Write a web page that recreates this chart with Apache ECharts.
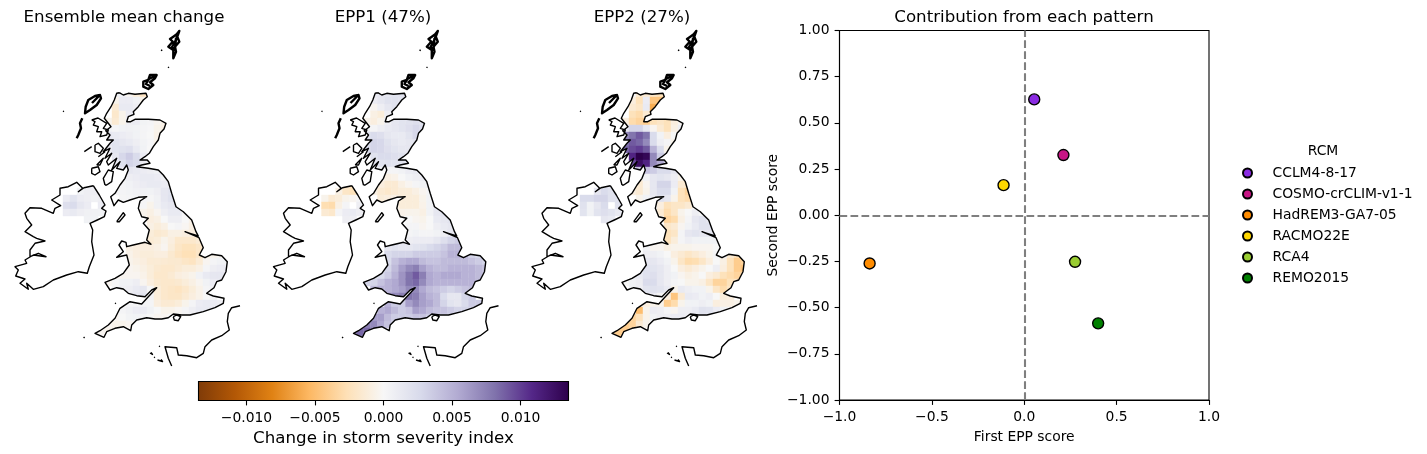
<!DOCTYPE html>
<html><head><meta charset="utf-8">
<style>html,body{margin:0;padding:0;background:#fff}#c{width:1427px;height:454px}</style>
<script src="https://cdn.jsdelivr.net/npm/echarts@6/dist/echarts.min.js"></script>
</head><body><div id="c"></div>
<script>
const _ = null;
// ---------- scatter data ----------
const rcmNames = ['CCLM4-8-17','COSMO-crCLIM-v1-1','HadREM3-GA7-05','RACMO22E','RCA4','REMO2015'];
const rcmColors = ['#8a2be2','#c71585','#ff8c00','#ffd700','#9acd32','#008000'];
const firstEpp = [0.054,0.212,-0.837,-0.112,0.275,0.40];
const secondEpp = [0.627,0.326,-0.261,0.163,-0.252,-0.585];
const panelTitles = ['Ensemble mean change','EPP1 (47%)','EPP2 (27%)'];
// ---------- map fields, units of 1e-4, one row per latitude band, one column per longitude band ----------
const meanGB = [
[_,_,_,8,5,-3,-12,-22,-22],
[_,_,_,-5,10,10,5,-5,-15],
[_,_,_,-15,12,12,8,6],
[_,_,_,-18,-5,10,10,5,3,3,2],
[_,_,-5,-15,-5,8,10,4,3,-3,-6],
[_,_,5,3,5,6,5,3,1,-5,-8],
[_,_,15,12,10,8,5,3,0,-6,-8],
[_,_,15,18,15,12,8,4,1,-5,-6],
[_,_,10,18,20,22,12,5,0,-4,-3],
[_,_,_,15,28,35,25,10,3,0],
[_,_,_,10,20,30,25,10,5,3],
[_,_,_,_,10,15,12,10,8,5,3],
[_,_,_,_,6,8,10,12,12,10,6,3],
[_,_,_,5,3,5,8,10,12,12,10,8,5],
[_,_,_,3,3,4,6,6,5,8,15,18,12],
[_,_,_,_,2,3,4,3,2,6,15,20,18],
[_,_,_,_,_,_,_,2,-5,6,12,15,12,5],
[_,_,_,_,_,_,_,-5,-8,-3,8,12,12,3,-3,-5],
[_,_,_,_,_,_,_,_,-10,-8,0,8,8,0,-6,-8],
[_,_,_,_,_,_,_,_,-8,-12,-8,0,3,-2,-8,-10,-8],
[_,_,_,_,_,_,_,_,-12,-16,-14,-8,-8,-10,-10,-10,-8],
[_,_,_,_,_,-8,-10,-10,-14,-12,-5,-10,-18,-18,-18,-14,-10],
[_,_,_,_,_,-8,-10,-10,-10,-8,-3,-12,-20,-24,-24,-20,-10],
[_,_,_,_,_,-6,-10,-12,-12,-10,-10,-16,-22,-26,-26,-20,-8,-5,-3],
[_,_,_,_,_,-5,-8,-10,-14,-14,-15,-16,-16,-20,-22,-14,-3,3,5,5,3],
[_,_,_,_,_,-3,-5,-8,-12,-16,-18,-18,-15,-12,-12,-8,3,8,10,10,8],
[_,_,_,-3,-3,-3,-3,-6,-12,-18,-18,-15,-10,-8,-5,5,12,15,15,10],
[_,_,-3,2,5,5,8,-3,-10,-16,-18,-18,-16,-12,-8,-3,5,10,12,10],
[_,_,_,3,6,8,12,15,2,-12,-18,-20,-22,-18,-12,-6,3,6,6],
[_,_,_,_,_,10,15,18,5,-12,-18,-20,-20,-15,-10,-6,0,3],
[_,_,_,_,_,3,3,3,3,-10,-15,-15,-12,-5,3,10,12,10,8,5],
[_,_,_,_,3,6,10,10,5,0,-5,-5,-2,3,8,12,12,10,6],
[_,_,_,-3,0,4,5,3,0,-3,-3,0,3,4,4,3],
[_,_,-3,-5,-5,-3,-1],
[-3,-3,-5,-5,-2],
[-2,-2,-3]];
const epp1GB = [
[_,_,_,12,15,15,18,20,15],
[_,_,_,10,15,20,20,18,12],
[_,_,_,-3,8,15,20,18],
[_,_,_,-8,-12,8,18,18,18,15,15],
[_,_,-5,-10,-5,8,15,18,20,22,20],
[_,_,5,3,8,12,15,18,22,28,25],
[_,_,20,25,22,15,12,12,18,28,22],
[_,_,25,30,28,20,15,12,15,18,12],
[_,_,25,30,28,22,18,15,15,15],
[_,_,_,20,25,25,22,20,18,18],
[_,_,_,15,18,20,18,18,18,15],
[_,_,_,_,5,3,3,5,10,12,10],
[_,_,_,_,-3,-8,-6,0,5,8,10,8],
[_,_,_,-3,-10,-15,-15,-8,-3,3,5,8,6],
[_,_,_,-8,-15,-18,-15,-12,-12,-8,-3,3,8],
[_,_,_,_,-12,-10,-8,-12,-12,-12,-5,5,10],
[_,_,_,_,_,_,_,-12,-12,-12,-6,5,12,12],
[_,_,_,_,_,_,_,-6,-5,-5,-8,5,15,18,15,10],
[_,_,_,_,_,_,_,_,0,-3,-5,0,12,15,18,15],
[_,_,_,_,_,_,_,_,3,3,-3,0,8,12,15,18,15],
[_,_,_,_,_,_,_,_,3,5,3,3,5,8,15,22,20],
[_,_,_,_,_,8,5,5,8,10,10,10,15,22,30,35,30],
[_,_,_,_,_,15,18,15,15,18,20,25,30,35,45,45,35],
[_,_,_,_,_,25,30,30,30,35,35,35,35,40,50,50,45,30,25],
[_,_,_,_,_,25,40,50,55,55,45,40,40,45,45,45,45,40,35,30,25],
[_,_,_,_,_,30,45,60,70,75,60,50,45,45,50,50,50,50,45,40],
[_,_,_,20,25,35,50,65,80,90,75,55,50,55,55,55,50,50,45,40],
[_,_,30,30,40,50,55,65,80,85,70,55,50,50,50,50,50,50,45,40],
[_,_,_,45,50,50,55,60,70,70,55,45,40,35,30,35,40,45,40],
[_,_,_,_,_,65,70,75,80,75,60,50,45,25,15,15,30,35],
[_,_,_,_,_,50,35,35,60,70,60,55,45,30,18,15,25,35,35],
[_,_,_,_,50,55,45,35,40,60,55,45,40,40,35,30,30,30,30],
[_,_,_,60,60,45,35,35,35,40,40,35,30,25,20,20],
[_,_,75,70,55,40,30],
[70,85,85,70,50],
[70,80,70]];
const epp2GB = [
[_,_,_,0,-15,-15,-20,-25,-30],
[_,_,_,-10,-25,10,-45,-45,-25],
[_,_,_,-15,-20,12,-60,-50],
[_,_,_,-25,-30,-15,-50,-35,-10,-12,-10],
[_,_,-10,-30,-35,-40,-25,-20,-25,-10,-3],
[_,_,15,30,30,15,-3,-15,-25,-8,8],
[_,_,70,80,90,80,25,5,-10,0,8],
[_,_,80,90,85,70,25,8,3,-5,5],
[_,_,85,95,100,90,50,25,-5,-15],
[_,_,_,110,135,130,70,35,15,3],
[_,_,_,95,125,110,70,55,30,15],
[_,_,_,_,40,40,35,25,25,15,3],
[_,_,_,_,-5,5,15,18,15,8,-5,-5],
[_,_,_,-8,-15,-3,15,30,30,10,-15,-20,-10],
[_,_,_,-10,-15,-5,15,25,25,5,-25,-35,-40],
[_,_,_,_,-5,5,12,20,15,-5,-25,-30,-30],
[_,_,_,_,_,_,_,-10,-25,-20,-20,-15,-3],
[_,_,_,_,_,_,_,-15,-30,-20,-5,0,8,3,5],
[_,_,_,_,_,_,_,_,-35,-30,-8,3,15,20,15,10],
[_,_,_,_,_,_,_,_,-20,-15,-3,5,12,20,20,15,10],
[_,_,_,_,_,_,_,_,-25,-20,3,15,18,15,15,12,8],
[_,_,_,_,_,-5,-3,-8,-25,-12,3,8,5,5,5,5,8],
[_,_,_,_,_,5,-3,-3,-8,-5,-5,-5,-3,-3,-3,0,5],
[_,_,_,_,_,8,8,5,0,-10,-15,-20,-15,-10,-5,3,5,-15,-25],
[_,_,_,_,_,15,15,10,5,-5,-20,-30,-28,-20,-10,0,-8,-25,-40,-35],
[_,_,_,_,_,20,18,15,8,0,-10,-15,-10,-5,0,8,-10,-25,-40,-45],
[_,_,_,8,12,20,22,15,8,5,-3,-8,-5,0,-10,-15,-25,-30,-35,-30],
[_,_,0,5,8,25,25,15,8,3,0,-5,-5,-8,-20,-35,-35,-25,-20,-15],
[_,_,_,5,8,18,20,18,12,-5,12,8,5,5,-5,-20,-30,-20,-10],
[_,_,_,_,_,15,10,3,-10,-45,-15,12,10,5,8,0,-12,-10],
[_,_,_,_,_,-10,-5,-5,-40,-30,-5,5,5,8,5,-10,-8,-8,-5],
[_,_,_,_,-50,-5,10,8,3,-3,8,8,12,20,18,10,5,3,0,0],
[_,_,_,-35,-25,-5,5,8,8,10,10,8,10,12,10,8],
[_,_,-40,-35,-15,-5,0],
[-30,-40,-40,-25,-10],
[-30,-40,-30]];
const meanNI = [
[_,_,_,6,8,8],
[_,_,5,8,8,8],
[10,18,10,8,6,8],
[22,25,15,10,_,10],
[10,12,8,6,6,5],
[_,_,_,5,5,_]];
const epp1NI = [
[_,_,_,-15,-25,-20],
[_,_,-8,-20,-25,-10],
[-5,-15,-12,-5,-3,3],
[-28,-30,-8,3,_,8],
[-15,-18,3,10,12,8],
[_,_,_,8,8,_]];
const epp2NI = [
[_,_,_,12,15,15],
[_,_,15,25,20,18],
[25,25,30,30,20,20],
[20,5,15,25,_,20],
[18,5,18,22,18,12],
[_,_,_,15,12,_]];
// ---------- coastlines, map units ----------
const gbCoast = [[119.3,92.7],[123.3,95],[128.3,93.3],[135,94.3],[146,93.3],[147.3,96.7],[143.3,100],[138.3,106.7],[133.3,111.7],[134,114.3],[128.3,116.7],[126.7,121.7],[130.7,121.7],[135,119.3],[141.7,119.3],[148.3,119.3],[160,120],[166,123.3],[164,129],[160,133.3],[158.3,140],[153.3,146.7],[149.3,153.3],[145,156.7],[140,160],[147.3,160],[150,163.3],[141.7,165],[136.7,166.7],[148.3,168.3],[158.3,170],[163.3,175],[168.3,181.7],[171.7,193.3],[176,206.7],[183.3,211.7],[191.7,220],[196,231.7],[198.3,236],[190,233.3],[185,231.7],[199,237.7],[203.3,247.7],[199.3,255],[205,257.7],[211.7,254.3],[221.7,255.7],[227.3,261.7],[226,271.7],[221.7,280],[216.7,281.7],[214,287.7],[206.7,293.3],[213.3,296],[224,298.3],[223.3,303.3],[215,307.7],[203.3,311.7],[190,315],[181.7,315],[173.3,314],[168.3,317.7],[161.7,319],[155,319],[146.7,317.7],[136.7,320],[131.7,325],[130.7,330.7],[123.3,326.7],[115,328.3],[106.7,331.7],[104,337.3],[95,333.3],[100,330.7],[108.3,325],[115,318.3],[120,308.3],[130,301.7],[141.7,304],[148.3,296.7],[156.7,287.7],[151.7,290],[145,296.7],[136.7,295.7],[128.3,293.3],[123.3,289],[116.7,287.7],[110,290],[105,282.3],[115,278.3],[123.3,273.3],[129.3,265],[126.7,255],[116.7,257.3],[123.3,251.7],[119,245],[121.7,241],[126,242.3],[126.7,246.7],[133.3,245],[145,242.3],[151,244.3],[146.7,240],[149.3,230],[143.3,223.3],[148.3,218.3],[141.7,216.7],[138.3,208.3],[140,201],[146.7,196.7],[138.3,197.3],[130,200],[123.3,202.3],[118.3,200],[114,205.7],[110.7,196.7],[115,193.3],[120,185],[125,178.3],[128.3,170],[126.7,165],[123.3,170],[116.7,168.3],[120,161.7],[111.7,170],[116.7,158.3],[108.3,165],[106.7,161.7],[111.7,153.3],[105,158.3],[110,148.3],[103.3,151.7],[110,143.3],[113.3,140],[106.7,140],[110,135],[105.7,130.7],[111,126.7],[108.3,123.3],[104.3,118.3],[106.7,113.3],[111,106.7],[114.3,100],[116.7,93.3],[119.3,92.7]];
const irelandCoast = [[93.3,185.7],[99.3,195],[105,205],[101.7,208.3],[106,211],[104.3,216.7],[97.3,220],[90,223.3],[92.7,230],[91.7,241.7],[94,255],[89.3,266.7],[87.3,273.3],[78.3,271.7],[66.7,275],[53.3,280],[43.3,286.7],[33.3,289.3],[26.7,283.3],[28.3,289.3],[20,283.3],[25,279],[15.7,276],[18.3,270],[15,266.7],[26.7,263.3],[25,260],[33.3,255],[46,256.7],[38.3,253.3],[30,256.7],[30,250],[35,243.3],[45,241],[36.7,238.3],[33.3,236.7],[25,231.7],[31.7,225],[26.7,218.3],[25,213.3],[30,207.7],[41.7,208.3],[53.3,213.3],[55,208.3],[60.7,205.7],[51.7,200],[60,195],[60,188.3],[68.3,186.7],[76.7,182.3],[82.7,188.3],[78.3,191.7],[84,187.7],[93.3,185.7]];
const skye = [[91.7,120],[95,121.7],[93.3,125],[98.3,126.7],[96.7,131.7],[101.7,131.7],[100,136.7],[106.7,135],[108.3,130],[103.3,128.3],[106.7,123.3],[98,118],[91.7,120]];
const mull = [[95,145],[98.3,143.3],[103.3,148.3],[100,153.3],[95,151.7],[95,145]];
const mullLoch = [[98.3,156.7],[105,151.7]];
const tiree = [[84.3,151.7],[91.7,146.7]];
const islay = [[91.7,168.3],[98.3,166.7],[100,171.7],[95,175],[91.7,173.3],[91.7,168.3]];
const jura = [[96.7,165],[103.3,158.3],[100,165],[96.7,165]];
const kintyre = [[105,185],[103.3,178.3],[108.3,170],[113.3,171.7],[111.7,181.7],[106.7,185],[105,185]];
const isleOfMan = [[116.7,221.7],[123.3,212.7],[125,215],[119.3,221.7],[116.7,221.7]];
const wight = [[173.3,316.7],[176.7,315],[180.7,316.7],[178.3,320.7],[174.3,320],[173.3,316.7]];
const france = [[240,305.7],[231.7,307.7],[228.3,313.3],[227.3,321.7],[229.3,330],[221.7,335.7],[211.7,340],[205,346.7],[203.3,353.3],[196.7,357.7],[186.7,355.7],[178.3,355],[176.7,347.7],[165,346.7],[168.3,358.3],[171.7,366]];
const smallIslands = [
 [[161,50],[162.3,50.6]],[[168,67],[169,67.8]],[[63,111],[64,111.6]],[[115,303],[116,303.6]],[[83.6,337],[84.6,338]],
 [[150,353],[152.5,354.5],[151,352.5]],[[157.5,360],[162.5,361.5],[161,359.5]],[[159,346],[160,346.6]],[[154,357],[155,357.6]]];
// drawn heavier: islands so indented that they read as nearly solid
const shetland = [[179.3,31],[176.7,34.3],[173.3,36.7],[170,39],[172.7,41.7],[168.3,46.7],[173.3,50],[173.3,58.3],[176,51.7],[175,46.7],[179.3,41.7],[177.3,36.7],[179.3,31],[175,42],[172,47],[175,50],[176,38]];
const orkney = [[156.7,75],[150,75],[148.3,80],[143.3,81.7],[143.3,86.7],[148.3,89],[153.3,85],[150,82.3],[155,78.3],[156.7,75],[149,79],[146,84],[150,86]];
const lewis = [[100,95],[95,96],[88.3,100],[85.7,106.7],[85,113.3],[90,110],[96.7,105],[101,98.3],[100,95],[92,103]];
const uists = [[82.3,118.3],[80,123.3],[81,128.3],[78.3,135],[76.7,138.3]];

const FIELD_X0=91, NI_X0=63, NI_ROW0=13, FIELD_Y0=90, CELL=7, VALUE_UNIT=1e-4;
const mapW=258.5, mapH=378, panelStep=258.5, seaW=239;
const puOr=['#7f3b08','#b35806','#e08214','#fdb863','#fee0b6','#f7f7f7','#d8daeb','#b2abd2','#8073ac','#542788','#2d004b'];
const cbMin=-0.0135, cbMax=0.0135;
const FONT='DejaVu Sans';
const minus=s=>String(s).replace('-','\u2212');

function cells(gb,ni){
  const out=[];
  gb.forEach((row,r)=>row.forEach((v,c)=>{ if(v!==null) out.push([FIELD_X0+c*CELL,FIELD_Y0+r*CELL,v*VALUE_UNIT]); }));
  ni.forEach((row,r)=>row.forEach((v,c)=>{ if(v!==null) out.push([NI_X0+c*CELL,FIELD_Y0+(NI_ROW0+r)*CELL,v*VALUE_UNIT]); }));
  return out;
}
function area(p){let a=0;for(let i=0;i<p.length-1;i++)a+=p[i][0]*p[i+1][1]-p[i+1][0]*p[i][1];return a;}
function maskRing(){
  const outer=[[0,0],[seaW,0],[seaW,mapH],[0,mapH],[0,0]];
  const holes=[gbCoast,irelandCoast].map(h=>area(h)>0?h.slice().reverse():h.slice());
  let pts=outer.slice();
  holes.forEach(h=>{pts=pts.concat(h,[[0,0]]);});
  return pts;
}
const maskPts=maskRing();
const joinBreaks=list=>{const d=[];list.forEach(o=>{o.forEach(p=>d.push(p));d.push(['-','-']);});return d;};
const coastData=joinBreaks([gbCoast,irelandCoast,skye,mull,mullLoch,tiree,islay,jura,kintyre,isleOfMan,wight,france].concat(smallIslands));
const heavyData=joinBreaks([shetland,orkney,lewis,uists]);

const grids=[],xAxes=[],yAxes=[],series=[],titles=[],heatIdx=[];
const titleStyle={fontFamily:FONT,fontWeight:'normal',fontSize:16.67,color:'#000'};
[[meanGB,meanNI],[epp1GB,epp1NI],[epp2GB,epp2NI]].forEach((f,i)=>{
  grids.push({left:panelStep*i,top:0,width:mapW,height:mapH,show:false});
  xAxes.push({type:'value',gridIndex:i,min:0,max:mapW,show:false});
  yAxes.push({type:'value',gridIndex:i,min:0,max:mapH,inverse:true,show:false});
  heatIdx.push(series.length);
  series.push({type:'custom',name:'field'+i,xAxisIndex:i,yAxisIndex:i,z:1,silent:true,clip:false,
    data:cells(f[0],f[1]),encode:{x:0,y:1},
    renderItem:(p,api)=>{
      const a=api.coord([api.value(0),api.value(1)]),b=api.coord([api.value(0)+CELL,api.value(1)+CELL]);
      const col=api.visual('color');
      return {type:'rect',shape:{x:a[0],y:a[1],width:b[0]-a[0],height:b[1]-a[1]},style:{fill:col,stroke:col,lineWidth:0.4}};
    }});
  series.push({type:'custom',name:'sea'+i,xAxisIndex:i,yAxisIndex:i,z:2,silent:true,clip:false,
    data:[[0,0]],encode:{x:0,y:1},
    renderItem:(p,api)=>({type:'polygon',shape:{points:maskPts.map(q=>api.coord(q))},style:{fill:'#fff',stroke:null}})});
  series.push({type:'line',name:'coast'+i,xAxisIndex:i,yAxisIndex:i,z:3,silent:true,showSymbol:false,symbol:'none',
    connectNulls:false,data:coastData,lineStyle:{color:'#000',width:1.39,join:'round'},clip:false});
  series.push({type:'line',name:'heavy'+i,xAxisIndex:i,yAxisIndex:i,z:3,silent:true,showSymbol:false,symbol:'none',
    connectNulls:false,data:heavyData,lineStyle:{color:'#000',width:2.4,join:'round'},clip:false});
  titles.push({text:panelTitles[i],left:[119,378,637][i],top:4,textAlign:'center',textStyle:titleStyle});
});
titles.push({text:'Contribution from each pattern',left:1019,top:4,textAlign:'center',textStyle:titleStyle});
titles.push({text:'RCM',left:1318,top:139,textAlign:'center',textStyle:{fontFamily:FONT,fontWeight:'normal',fontSize:13.89,color:'#000'}});

// colour bar
const cb=3;
grids.push({left:198.5,top:381.5,width:370,height:19,show:false});
xAxes.push({type:'value',gridIndex:cb,min:cbMin,max:cbMax,name:'Change in storm severity index',nameLocation:'middle',nameGap:29.5,
  nameTextStyle:{fontFamily:FONT,fontSize:16.67,color:'#000'},axisLine:{show:false},splitLine:{show:false},
  axisTick:{show:true,length:4.9,customValues:[-0.01,-0.005,0,0.005,0.01],lineStyle:{color:'#000',width:1.1}},
  axisLabel:{customValues:[-0.01,-0.005,0,0.005,0.01],fontFamily:FONT,fontSize:13.89,color:'#000',margin:10.5,formatter:v=>minus(v.toFixed(3))}});
yAxes.push({type:'value',gridIndex:cb,min:0,max:1,show:false});
series.push({type:'custom',name:'colourbar',xAxisIndex:cb,yAxisIndex:cb,z:2,silent:true,clip:false,
  data:[[cbMin,0,cbMax,1]],encode:{x:[0,2],y:[1,3]},
  renderItem:(p,api)=>{
    const a=api.coord([api.value(0),api.value(3)]),b=api.coord([api.value(2),api.value(1)]);
    return {type:'rect',shape:{x:a[0],y:a[1],width:b[0]-a[0],height:b[1]-a[1]},
      style:{stroke:'#000',lineWidth:1.1,fill:{type:'linear',x:0,y:0,x2:1,y2:0,colorStops:puOr.map((c,i)=>({offset:i/(puOr.length-1),color:c}))}}};
  }});

// scatter
const sc=4;
grids.push({left:839.5,top:30.5,width:369.5,height:369.5,show:true,borderColor:'#000',borderWidth:1.1,backgroundColor:'transparent'});
const scatterAxis=(name,fmt,interval)=>({type:'value',gridIndex:sc,min:-1,max:1,interval,name,nameLocation:'middle',
  nameTextStyle:{fontFamily:FONT,fontSize:13.89,color:'#000'},splitLine:{show:false},
  axisLine:{show:true,onZero:false,lineStyle:{color:'#000',width:1.1}},
  axisTick:{show:true,length:4.9,lineStyle:{color:'#000',width:1.1}},
  axisLabel:{fontFamily:FONT,fontSize:13.89,color:'#000',margin:10,showMinLabel:true,showMaxLabel:true,formatter:fmt}});
xAxes.push(Object.assign(scatterAxis('First EPP score',v=>minus(v.toFixed(1)),0.5),{nameGap:30}));
yAxes.push(Object.assign(scatterAxis('Second EPP score',v=>minus(v.toFixed(2)),0.25),{nameGap:59.5}));
series.push({type:'line',name:'zero',xAxisIndex:sc,yAxisIndex:sc,data:[],z:2,silent:true,
  markLine:{silent:true,symbol:'none',animation:false,label:{show:false},
    lineStyle:{color:'#7f7f7f',type:[7.7,3.3],width:2.08},data:[{xAxis:0},{yAxis:0}]}});
rcmNames.forEach((n,i)=>series.push({type:'scatter',name:n,xAxisIndex:sc,yAxisIndex:sc,z:4,symbol:'circle',symbolSize:11,
  data:[[firstEpp[i],secondEpp[i]]],itemStyle:{color:rcmColors[i],borderColor:'#000',borderWidth:1.39,opacity:1}}));

const chart=echarts.init(document.getElementById('c'),null,{renderer:'canvas'});
chart.setOption({animation:false,backgroundColor:'#fff',title:titles,grid:grids,xAxis:xAxes,yAxis:yAxes,series,
  visualMap:{show:false,type:'continuous',min:cbMin,max:cbMax,dimension:2,seriesIndex:heatIdx,inRange:{color:puOr}},
  legend:{orient:'vertical',left:1237,top:161,itemWidth:40,itemHeight:9,itemGap:7,icon:'circle',data:rcmNames,
    selectedMode:false,textStyle:{fontFamily:FONT,fontSize:13.89,color:'#000',padding:[0,0,0,0]}}
});
</script></body></html>
